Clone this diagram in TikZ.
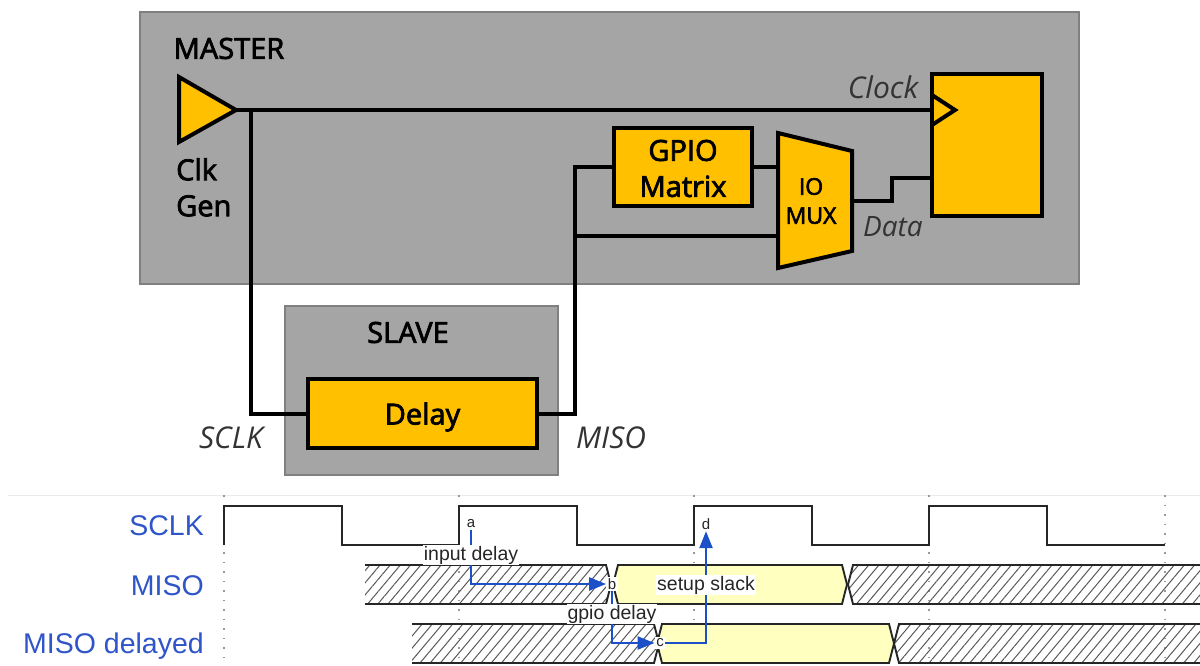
\documentclass[tikz,border=0pt]{standalone}
\usepackage{fontspec}
\setmainfont{Open Sans}
\newfontfamily\wavefont{Liberation Sans}
\newfontfamily\blockfont[FakeBold=2.6]{Open Sans}
\usetikzlibrary{arrows.meta,patterns.meta}
\definecolor{boxgray}{HTML}{A5A5A5}
\definecolor{blockorange}{HTML}{FFC000}
\definecolor{validyellow}{HTML}{FFFFC0}
\definecolor{delayblue}{HTML}{1C50C8}
\definecolor{wavelabelblue}{HTML}{2F55C8}
\tikzset{
  domainbox/.style={draw=black!50,line width=1.2pt,fill=boxgray},
  block/.style={draw=black,line width=4pt,fill=blockorange,inner sep=0pt,align=center,text=black},
  wire/.style={line width=4pt,line join=miter,line cap=butt},
  toplabel/.style={font=\blockfont\fontsize{29}{36}\selectfont,inner sep=0pt,align=center},
  netlabel/.style={font=\fontsize{30}{34}\selectfont\itshape,inner sep=0pt,text=black!80},
  wavelabel/.style={font=\wavefont\fontsize{28.5}{32}\selectfont,text=wavelabelblue,anchor=east,inner sep=0pt},
  hatched/.style={pattern={Lines[angle=50,distance=7.8pt,line width=1pt]},pattern color=black!65},
  valid/.style={fill=validyellow},
  bandedge/.style={draw=black!85,line width=1.9pt,line join=miter},
  signal/.style={draw=black!85,line width=2.2pt,line join=miter},
  griddots/.style={draw=black!40,line width=1.2pt,dash pattern=on 1.5pt off 8pt},
  timing/.style={draw=delayblue,line width=2.4pt,-{Triangle[length=17pt,width=13pt]}},
  marker/.style={font=\wavefont\fontsize{15}{18}\selectfont,fill=white,inner sep=1.5pt,text=black!85},
  delaytext/.style={font=\wavefont\fontsize{19.5}{22}\selectfont,fill=white,inner sep=1pt,text=black!85}
}
\begin{document}
\begin{tikzpicture}[x=1pt,y=-1pt]
  \useasboundingbox (0,0) rectangle (1200,666);
  \fill[white] (0,0) rectangle (1200,666);

  \draw[domainbox] (140,12) rectangle (1079,284);
  \draw[domainbox] (285,306) rectangle (558,475);
  \node[toplabel] (master) at (229,48.5) {MASTER};
  \node[toplabel] (slave) at (408,332.5) {SLAVE};

  \draw[block,line join=miter] (179,77) -- (236,110) -- (179,142) -- cycle;
  \coordinate (clkout) at (236,110);
  \node[toplabel,anchor=north west,align=left] (clkgen) at (176,158) {Clk\\Gen};

  \node[block,minimum width=138pt,minimum height=78pt,font=\blockfont\fontsize{29}{36}\selectfont] (gpio) at (683,167) {\rule{0pt}{24pt}GPIO\\Matrix};
  \node[block,minimum width=229pt,minimum height=69pt,font=\blockfont\fontsize{29}{32}\selectfont] (delay) at (422.5,413.5) {\rule{0pt}{29pt}Delay};
  \node[block,minimum width=110pt,minimum height=142pt] (ff) at (987,145) {};
  \draw[block,line join=miter] (778,133) -- (852,151) -- (852,251) -- (778,268) -- cycle;
  \node[font=\blockfont\fontsize{23}{29}\selectfont,align=center,inner sep=0pt] (mux) at (811,201) {IO\\MUX};
  \coordinate (muxin) at (778,167);
  \coordinate (muxlow) at (778,236);
  \coordinate (muxout) at (852,201);
  \coordinate (ffclk) at (932,110);
  \coordinate (ffdata) at (932,178);
  \coordinate (sclktap) at (251,110);
  \coordinate (misotap) at (575,236);
  \draw[wire,line join=miter] (932,95) -- (955,110) -- (932,125);

  \draw[wire] (clkout) -- (ffclk);
  \draw[wire] (sclktap) |- (delay.west);
  \draw[wire] (delay.east) -| (575,167) -- (gpio.west);
  \draw[wire] (gpio.east) -- (muxin);
  \draw[wire] (misotap) -- (muxlow);
  \draw[wire] (muxout) -- (892,201) -- (892,178) -- (ffdata);

  \node[netlabel] (clocklabel) at (883,87) {Clock};
  \node[netlabel,font=\fontsize{28}{32}\selectfont\itshape] (datalabel) at (893,227) {Data};
  \node[netlabel] (sclklabel) at (231,438) {SCLK};
  \node[netlabel] (misolabel) at (611,438) {MISO};

  \draw[black!8,line width=1pt] (8,495) -- (1200,495);
  \foreach \x in {224,459,694,929,1165}
    \draw[griddots] (\x,495) -- (\x,666);

  \node[wavelabel] (sclkwave) at (204,526) {SCLK};
  \node[wavelabel] (misowave) at (204,586) {MISO};
  \node[wavelabel] (delayedwave) at (204,646) {MISO delayed};

  \draw[signal] (224,545) -- (224,506) -- (342,506) -- (342,545) -- (459,545) -- (459,506)
    -- (577,506) -- (577,545) -- (694,545) -- (694,506) -- (812,506) -- (812,545)
    -- (929,545) -- (929,506) -- (1047,506) -- (1047,545) -- (1165,545);

  \fill[hatched] (365,565) -- (606,565) -- (611,584.5) -- (606,604) -- (365,604) -- cycle;
  \draw[bandedge] (365,565) -- (606,565) -- (611,584.5) -- (606,604) -- (365,604);
  \draw[valid,bandedge] (618,565) -- (842,565) -- (847,584.5) -- (842,604) -- (618,604) -- (613,584.5) -- cycle;
  \fill[hatched] (1200,565) -- (853,565) -- (848,584.5) -- (853,604) -- (1200,604) -- cycle;
  \draw[bandedge] (1200,565) -- (853,565) -- (848,584.5) -- (853,604) -- (1200,604);

  \fill[hatched] (412,624) -- (654,624) -- (659,643.5) -- (654,663) -- (412,663) -- cycle;
  \draw[bandedge] (412,624) -- (654,624) -- (659,643.5) -- (654,663) -- (412,663);
  \draw[valid,bandedge] (662,624) -- (889,624) -- (894,643.5) -- (889,663) -- (662,663) -- (657,643.5) -- cycle;
  \fill[hatched] (1200,624) -- (899,624) -- (894,643.5) -- (899,663) -- (1200,663) -- cycle;
  \draw[bandedge] (1200,624) -- (899,624) -- (894,643.5) -- (899,663) -- (1200,663);

  \node[marker] (a) at (471,524) {a};
  \node[marker] (b) at (612,584) {b};
  \node[marker] (c) at (660,643) {c};
  \node[marker] (d) at (706,524) {d};
  \draw[timing] (a.south) |- (b.west);
  \draw[timing] (b.south) |- (c.west);
  \draw[timing] (c.east) -| (d.south);
  \node[delaytext] (inputdelay) at (471,555) {input delay};
  \node[delaytext] (gpiodelay) at (612,614) {gpio delay};
  \node[delaytext] (setupslack) at (706,585) {setup slack};
\end{tikzpicture}
\end{document}
